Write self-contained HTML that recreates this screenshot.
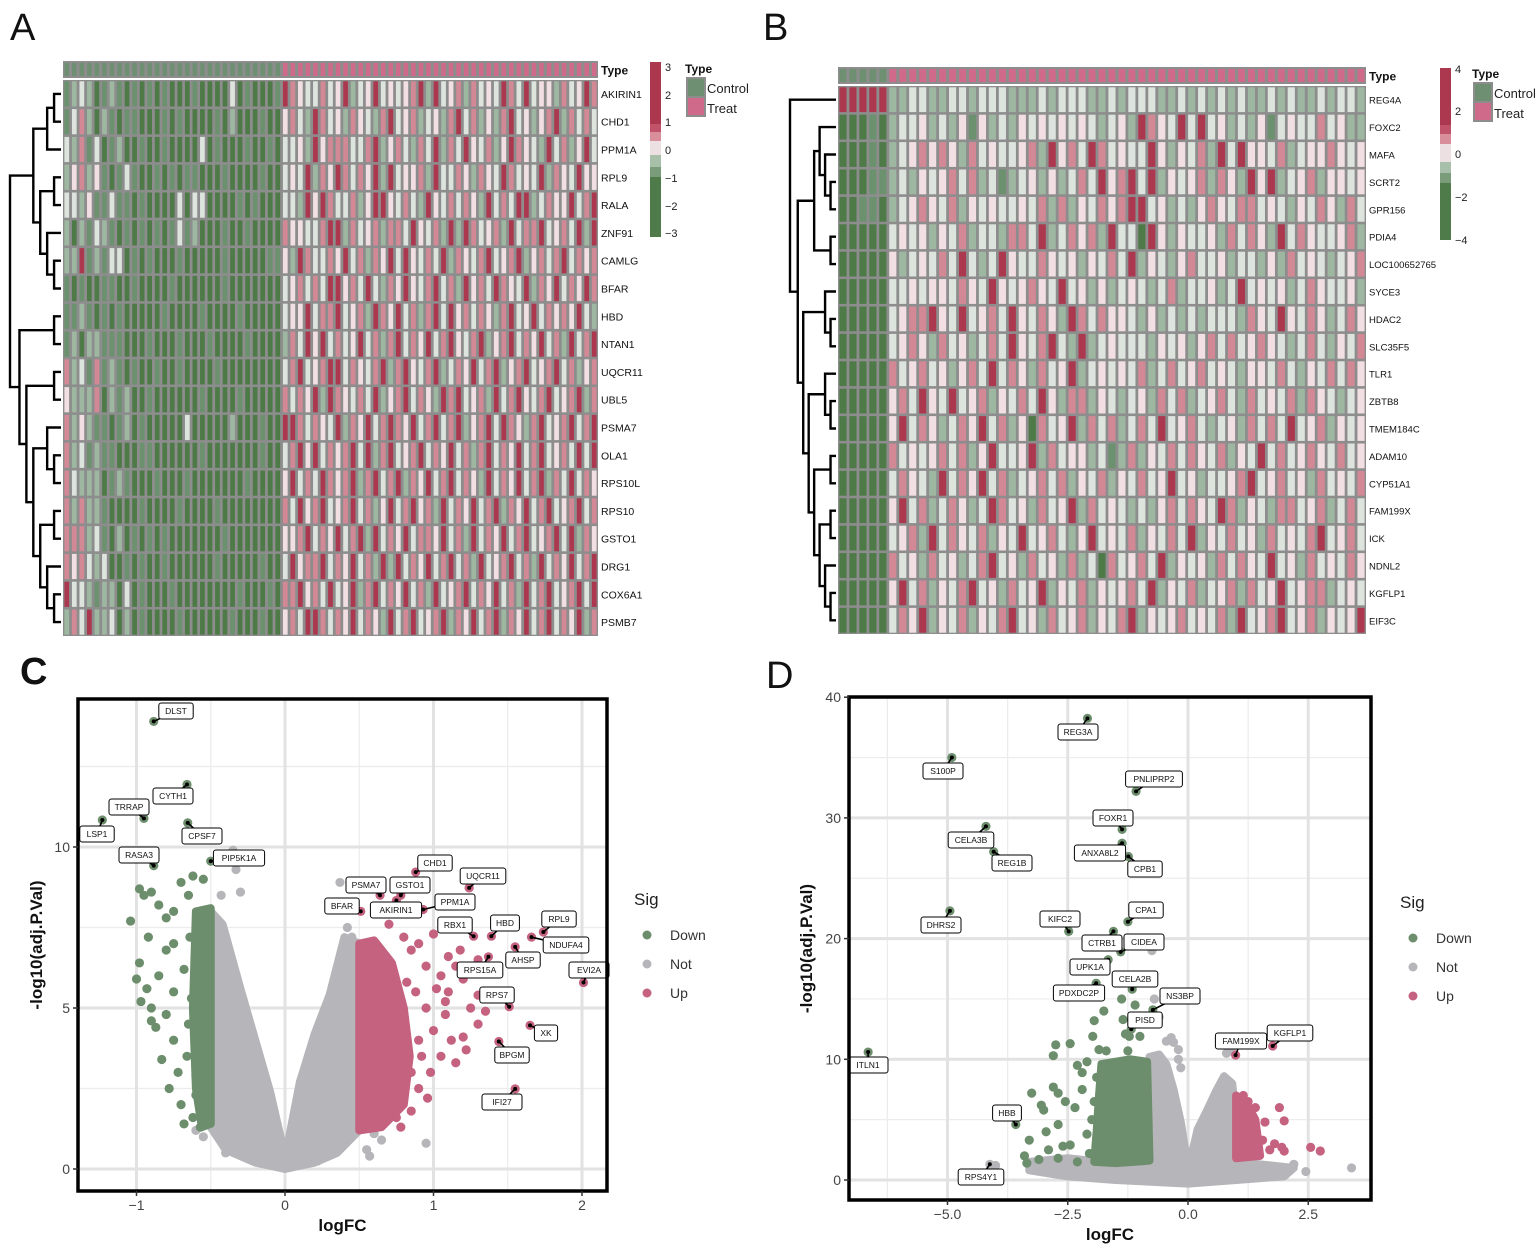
<!DOCTYPE html>
<html><head><meta charset="utf-8">
<style>
html,body{margin:0;padding:0;background:#fff;}
svg{display:block;font-family:"Liberation Sans",Arial,sans-serif;}
</style></head>
<body>
<svg id="fig" width="1535" height="1257" viewBox="0 0 1535 1257" xmlns="http://www.w3.org/2000/svg">
<rect x="0" y="0" width="1535" height="1257" fill="#fff"/>
<text x="10" y="40" font-size="38" fill="#111">A</text>
<text x="763" y="40" font-size="38" fill="#111">B</text>
<text x="20" y="684" font-size="38" font-weight="bold" fill="#111">C</text>
<text x="766" y="688" font-size="38" fill="#111">D</text>
<g id="gA"></g>
<g id="gB"></g>
<g id="gC"></g>
<g id="gD"></g>
</svg>
<script>
const NS="http://www.w3.org/2000/svg";
// ---------- Heatmap A data ----------
const genesA=["AKIRIN1","CHD1","PPM1A","RPL9","RALA","ZNF91","CAMLG","BFAR","HBD","NTAN1","UQCR11","UBL5","PSMA7","OLA1","RPS10L","RPS10","GSTO1","DRG1","COX6A1","PSMB7"];
const ctrlA=["12320121010101000100003010001","13520210110001010000102000100","32513012001001000030100010010","24524101310010101100010000100","33241131101000030330000101000","20213210101010131200010010000","22612133010100010000010000011","10100110010000100000010000000","11210101000001000010000100000","12022111000100010001000010000","52315121010010010000100000000","42225021200100000010000100000","52421101201000003000002000100","52312110001100000010000000100","53222012100010001000000010000","52522100001000010000100000000","55523102010101000000010000000","54532300101001000000100000100","63321220301000100000000100010","25362230201000010000001000100"];
const treatA=["654335346234634345626345253436536344253465","453265342543256345234256352425634245625353","334264555335624532536253643524654326352463","343625465354626344526335425436534362543644","332646533524664353264353542635366235446356","544335662534525536435262653452635563453626","426533546352546364353625435634562453563545","345353664536325464356352645365436254635465","344635563452654635256364535425634635454632","253646353463525635463564356245635463526356","356345663543562564356235463562456345635245","535462654353624563542656345263564356345625","665354362546356546356356245636542563456356","356463545636256345635463525635463563453636","463536545625635625463563542635463562536354","536456345635246356452635463562546356345635","445635463562635463554635263546356345636254","364556354635262635463563526345635263546356","556453634625635463526345635463526356345636","453665354635426356345625463562546356354625"];
// ---------- Heatmap B data ----------
const genesB=["REG4A","FOXC2","MAFA","SCRT2","GPR156","PDIA4","LOC100652765","SYCE3","HDAC2","SLC35F5","TLR1","ZBTB8","TMEM184C","ADAM10","CYP51A1","FAM199X","ICK","NDNL2","KGFLP1","EIF3C"];
const ctrlB=["66666","00010","00010","00011","00110","00000","00000","00000","00000","00000","00000","00000","00000","00000","00000","00000","00000","00000","00000","00000"];
const treatB=["223322332333222323332232333223232323223232232332","233423241423243434343234265436363423241343353422","234545425343345264536534336424352636443523445434","232434535231234242353645636243452542646234524434","234543524343343525243545663423245435534324354253","343424352332553623545263306424334253542635433452","423435363236433543424353624324533423324253432345","334344354364345436342423432352334236343423543342","345564363453643542653544324232323332543643542354","345425342353643563262343332434245353454323532435","534534245363542534623434352353453432443532435354","453643634524353642552432342535234532534352543234","463542354635240534625352353634532342535363452434","534345352463346253442312524353543524363534543534","354326354635234535243524353463423345634534253435","463523542365342534625343232453543652432553452353","345263543524363453246343524353624353425343563453","534253423563425342523053453624342535436342534354","463524356342534624352434536243523452534634552343","354624352435634253452435624345343526345634524346"];
const levelColors=["#4d7a47","#6c916e","#9db7a1","#dde4de","#f2dfe3","#d38896","#ac384f"];
const typeColors={c:"#6f8f73",t:"#cf6a8a"};
const treeA=[[[[0,1],2],[[3,4],[5,[6,7]]]],[[8,9],[[10,11],[[12,[13,14]],[[15,16],[17,[18,19]]]]]]];
const treeB=[0,[[[1,[2,[3,4]]],[5,6]],[[7,[8,9]],[[10,[11,12]],[[13,14],[[15,16],[17,[18,19]]]]]]]];

// ---------- Volcano C data ----------
const cDownX=[-0.98,-0.95,-0.9,-1.04,-0.92,-0.98,-1.0,-0.97,-0.9,-0.87,-0.9,-0.83,-0.85,-0.8,-0.8,-0.75,-0.75,-0.75,-0.75,-0.72,-0.7,-0.68,-0.7,-0.65,-0.62,-0.55,-0.68,-0.65,-0.66,-0.85,-0.93,-0.8,-0.78,-0.6,-0.63,-0.58,-0.6,-0.56,-0.62,-0.6,-0.57,-0.64];
const cDownY=[8.7,8.5,8.6,7.7,7.2,6.4,5.9,5.2,5.0,4.4,4.6,3.4,6.0,7.8,6.8,8.0,7.0,5.5,4.0,3.0,2.0,1.4,8.9,8.5,9.1,9.0,6.2,4.5,3.5,8.2,5.6,4.8,2.5,2.3,5.3,7.5,6.5,3.9,1.6,2.9,1.3,7.2];
const cUpX=[0.8,0.85,0.9,0.95,1.0,1.05,1.1,1.1,1.15,1.2,1.25,1.3,1.2,1.22,1.15,1.05,1.0,0.95,0.9,0.85,0.9,0.85,0.8,0.88,1.08,1.18,1.3,1.3,1.35,0.98,0.78,0.75,1.08,1.12,0.82,0.7,0.92,0.96,1.02];
const cUpY=[7.2,6.8,7.0,6.3,7.3,6.0,5.5,6.6,6.3,5.9,5.0,4.5,4.1,3.7,3.3,3.5,4.3,5.0,4.0,3.0,2.5,1.8,2.2,5.5,4.8,6.8,5.4,6.5,4.9,3.0,1.3,1.6,5.2,4.0,5.8,7.6,3.5,2.2,5.6];
const cNotX=[-0.35,-0.33,-0.43,-0.3,0.37,0.42,0.45,0.95,0.55,0.65,0.57,-0.4,-0.55,-0.6,0.22,0.6];
const cNotY=[9.9,9.3,8.5,8.6,8.9,7.5,7.2,0.8,0.6,0.9,0.4,0.5,1.0,1.2,0.25,1.1];
const cNotEnvX=[-0.5,-0.42,-0.3,-0.2,-0.1,-0.02,0,0.02,0.1,0.2,0.3,0.4,0.5,0.5,0.35,0.2,0,-0.2,-0.4,-0.5];
const cNotEnvY=[8.0,7.6,5.6,4.0,2.4,0.8,0.2,0.8,2.7,4.2,5.4,7.2,7.0,1.2,0.5,0.2,0,0.2,0.6,1.3];
const cDownEnvX=[-0.6,-0.5,-0.5,-0.56,-0.6,-0.62];
const cDownEnvY=[8.0,8.1,1.4,1.3,2.5,5];
const cUpEnvX=[0.5,0.6,0.72,0.8,0.84,0.8,0.65,0.5];
const cUpEnvY=[7.0,7.1,6.4,5.0,3.5,2.0,1.3,1.2];
const cLabNames=["DLST","CYTH1","TRRAP","LSP1","CPSF7","RASA3","PIP5K1A","CHD1","PSMA7","GSTO1","UQCR11","BFAR","AKIRIN1","PPM1A","RBX1","HBD","RPL9","NDUFA4","AHSP","RPS15A","EVI2A","RPS7","XK","BPGM","IFI27"];
const cLabX=[-0.884,-0.66,-0.95,-1.23,-0.655,-0.884,-0.5,0.88,0.64,0.78,1.24,0.51,0.75,0.93,1.27,1.39,1.74,1.66,1.55,1.37,2.01,1.51,1.65,1.44,1.55];
const cLabY=[13.9,11.94,10.89,10.84,10.75,9.42,9.56,9.22,8.5,8.5,8.73,8.0,8.34,8.06,7.23,7.23,7.36,7.2,6.9,6.59,5.79,5.04,4.46,3.96,2.49];
const cLabSig=["d","d","d","d","d","d","d","u","u","u","u","u","u","u","u","u","u","u","u","u","u","u","u","u","u"];
const cLabPos=[[176,711],[173,796],[129,807],[97,834],[202,836],[139,855],[239,858],[435,863],[366,885],[410,885],[483,876],[342,906],[396,910],[455,902],[455,925],[505,923],[559,919],[566,945],[523,960],[480,970],[589,970],[497,995],[546,1033],[512,1055],[502,1102]];

// ---------- Volcano D data ----------
const dDownX=[-2.75,-2.45,-2.8,-1.85,-1.7,-1.25,-2.3,-2.2,-2.1,-2.8,-2.7,-3.25,-3.05,-3.0,-2.55,-2.35,-2.7,-2.95,-3.3,-3.4,-3.35,-3.1,-2.6,-2.9,-2.45,-2.7,-2.3,-1.75,-1.95,-1.98,-1.35,-1.3,-1.0,-1.38,-1.1,-1.22,-2.2,-2.0,-2.1,-1.9,-1.95,-2.05];
const dDownY=[11.2,11.3,10.3,10.8,10.7,10.7,9.5,8.9,9.8,7.7,7.2,7.2,6.2,5.8,6.5,6.0,4.6,4.0,3.3,2.0,1.4,1.7,2.8,2.5,2.9,1.8,1.5,14.0,13.2,11.9,13.3,12.1,11.9,15.0,14.5,11.9,7.5,5.0,3.8,8.5,6.5,2.2];
const dUpX=[1.9,1.6,2.0,1.8,1.95,2.0,2.55,2.75,1.7,1.55,1.25,1.3,1.15,1.4];
const dUpY=[6.0,4.8,4.9,3.0,2.7,2.4,2.7,2.4,2.5,3.3,6.5,5.2,7.0,6.0];
const dNotX=[-0.75,-0.6,-0.7,-0.45,-0.3,-0.2,-0.15,0.8,0.9,3.4,2.45,2.2,1.6,1.5,-4.0,-3.3,-2.8,-0.55,-0.35,-0.2];
const dNotY=[19.0,13.5,15.0,11.5,11.4,10.0,9.3,10.5,10.7,1.0,0.7,1.3,0.6,0.4,1.2,1.3,1.1,9.0,11.8,10.8];
const dNotEnvX=[-0.8,-0.6,-0.45,-0.3,-0.15,-0.03,0,0.05,0.2,0.4,0.6,0.75,0.92,1.0,1.0,1.5,2.2,2.0,1.0,0,-1.5,-2.5,-3.3,-3.3,-2.5,-1.8,-0.8];
const dNotEnvY=[10.2,10.4,9.6,7.5,4.8,1.8,1.2,1.6,4.2,5.8,7.5,8.6,8.0,5,1.5,1.3,1.0,0.3,0,-0.3,0,0.3,0.8,1.5,1.8,1.5,1.5];
const dDownEnvX=[-1.8,-1.2,-0.85,-0.8,-1.5,-1.95,-1.9,-1.85];
const dDownEnvY=[9.6,10.0,9.8,1.6,1.4,1.5,4,7];
const dUpEnvX=[1.0,1.2,1.4,1.5,1.0];
const dUpEnvY=[7.0,6.5,5,2,1.8];
const dLabNames=["REG3A","S100P","PNLIPRP2","FOXR1","CELA3B","ANXA8L2","REG1B","CPB1","DHRS2","KIFC2","CPA1","CTRB1","CIDEA","UPK1A","CELA2B","PDXDC2P","NS3BP","PISD","FAM199X","KGFLP1","ITLN1","HBB","RPS4Y1"];
const dLabX=[-2.09,-4.91,-1.08,-1.37,-4.2,-1.37,-4.04,-1.24,-4.95,-2.48,-1.25,-1.55,-1.4,-1.66,-1.16,-1.91,-0.73,-1.18,0.99,1.76,-6.65,-3.58,-4.12];
const dLabY=[38.25,35.0,32.2,29.05,29.3,27.9,27.2,26.8,22.3,20.6,21.4,20.6,18.9,18.25,15.8,16.3,14.1,12.5,10.35,11.1,10.6,4.6,1.3];
const dLabSig=["d","d","d","d","d","d","d","d","d","d","d","d","d","d","d","d","d","d","u","u","d","d","n"];
const dLabPos=[[1078,732],[943,771],[1154,779],[1113,818],[971,840],[1100,853],[1012,863],[1145,869],[941,925],[1060,919],[1146,910],[1102,943],[1144,942],[1090,967],[1135,979],[1079,993],[1180,996],[1145,1020],[1241,1041],[1290,1033],[868,1065],[1007,1113],[981,1177]];

const sigCol={d:"#6d8e6c",n:"#b6b6ba",u:"#c4627f"};

function el(tag,attrs,parent,text){const e=document.createElementNS(NS,tag);for(const k in attrs)e.setAttribute(k,attrs[k]);if(text!==undefined)e.textContent=text;parent.appendChild(e);return e;}

// ---------- heatmap drawing ----------
function heat(g,cfg){
  const nC=cfg.nCol, nR=cfg.genes.length;
  const cw=(cfg.x1-cfg.x0)/nC, rh=(cfg.y1-cfg.y0)/nR;
  el("rect",{x:cfg.x0,y:cfg.ty0,width:cfg.x1-cfg.x0,height:cfg.ty1-cfg.ty0,fill:"#8d8d8d"},g);
  el("rect",{x:cfg.x0,y:cfg.y0,width:cfg.x1-cfg.x0,height:cfg.y1-cfg.y0,fill:"#8d8d8d"},g);
  for(let c=0;c<nC;c++){
    const isC=c<cfg.nCtrl;
    const t=el("rect",{x:cfg.x0+c*cw+1.5,y:cfg.ty0+2,width:cw-3,height:cfg.ty1-cfg.ty0-4,fill:isC?typeColors.c:typeColors.t},g);
    
    
  }
  for(let r=0;r<nR;r++){
    const s=(cfg.ctrl[r]+"3".repeat(60)).slice(0,cfg.nCtrl)+(cfg.treat[r]+"3".repeat(60)).slice(0,nC-cfg.nCtrl);
    for(let c=0;c<nC;c++){
      const v=+s[c];
      const cell=el("rect",{x:cfg.x0+c*cw+1.4,y:cfg.y0+r*rh+1.3,width:cw-2.8,height:rh-2.6,fill:levelColors[v]},g);
      
      
    }
    const lab=el("text",{x:cfg.x1+3,y:cfg.y0+(r+0.5)*rh+4,"font-size":cfg.fs,fill:"#111"},g,cfg.genes[r]);
    
    
  }
  const tl=el("text",{x:cfg.x1+3,y:(cfg.ty0+cfg.ty1)/2+5,"font-size":12,"font-weight":"bold",fill:"#111"},g,"Type");
  
  
  const leafY=i=>cfg.y0+(i+0.5)*rh;
  function depth(n){return Array.isArray(n)?1+Math.max(depth(n[0]),depth(n[1])):0;}
  const maxD=depth(cfg.tree), xr=cfg.x0-2, unit=(xr-cfg.dx0)/maxD;
  const dg=el("g",{},g);
  function draw(n){
    if(!Array.isArray(n))return {y:leafY(n),x:xr};
    const a=draw(n[0]),b=draw(n[1]);const x=xr-depth(n)*unit*(depth(n)===maxD?1:0.95);
    el("path",{d:`M${a.x},${a.y}H${x}V${b.y}H${b.x}`,fill:"none",stroke:"#000","stroke-width":2.4},dg);
    return {y:(a.y+b.y)/2,x:x};
  }
  draw(cfg.tree);
  const cb=el("g",{},g);
  for(const s of cfg.cbSegs)el("rect",{x:cfg.cbx,y:s[0],width:11,height:s[1]-s[0],fill:s[2]},cb);
  for(const t of cfg.cbTicks){const tt=el("text",{x:cfg.cbx+15,y:t[1]+4,"font-size":11,fill:"#222"},cb,t[0]);}
  const tg=el("g",{},g);
  el("text",{x:cfg.lgx,y:cfg.lgy,"font-size":12,"font-weight":"bold",fill:"#111"},tg,"Type");
  el("rect",{x:cfg.lgx+1,y:cfg.lgy+4,width:20,height:40,fill:"#8d8d8d"},tg);
  el("rect",{x:cfg.lgx+3,y:cfg.lgy+6,width:16,height:17,fill:typeColors.c},tg);
  el("rect",{x:cfg.lgx+3,y:cfg.lgy+25,width:16,height:17,fill:typeColors.t},tg);
  el("text",{x:cfg.lgx+22,y:cfg.lgy+20,"font-size":13,fill:"#222"},tg,"Control");
  el("text",{x:cfg.lgx+22,y:cfg.lgy+40,"font-size":13,fill:"#222"},tg,"Treat");
}
heat(document.getElementById("gA"),{x0:63,x1:598,y0:80,y1:636,ty0:61,ty1:78,nCol:71,nCtrl:29,genes:genesA,ctrl:ctrlA,treat:treatA,fs:10.5,tree:treeA,dx0:10,
  cbx:650,cbSegs:[[62,124,"#ac384f"],[124,132,"#c0536a"],[132,141,"#d98e9b"],[141,155,"#ece0e2"],[155,167,"#a8c0aa"],[167,177,"#7a9c7a"],[177,237,"#4f7b4a"]],
  cbTicks:[["3",67],["2",95],["1",122],["0",150],["−1",178],["−2",206],["−3",233]],lgx:685,lgy:73});
heat(document.getElementById("gB"),{x0:838,x1:1366,y0:86,y1:634,ty0:67,ty1:84,nCol:53,nCtrl:5,genes:genesB,ctrl:ctrlB,treat:treatB,fs:9.5,tree:treeB,dx0:790,
  cbx:1440,cbSegs:[[68,125,"#ac384f"],[125,134,"#c0536a"],[134,144,"#d98e9b"],[144,162,"#ece0e2"],[162,173,"#a8c0aa"],[173,183,"#7a9c7a"],[183,240,"#4f7b4a"]],
  cbTicks:[["4",69],["2",111],["0",154],["−2",197],["−4",240]],lgx:1472,lgy:78});

// ---------- volcano drawing ----------
function volcano(g,cfg){
  const X=v=>cfg.px0+(v-cfg.v0)*cfg.sx, Y=v=>cfg.py0-v*cfg.sy;
  const clip="clip"+cfg.id;
  const defs=el("defs",{},g);const cp=el("clipPath",{id:clip},defs);
  el("rect",{x:cfg.L,y:cfg.T,width:cfg.R-cfg.L,height:cfg.B-cfg.T},cp);
  const grid=el("g",{},g);
  for(const v of cfg.xMinor)el("line",{x1:X(v),x2:X(v),y1:cfg.T,y2:cfg.B,stroke:"#ececec","stroke-width":1.2},grid);
  for(const v of cfg.yMinor)el("line",{y1:Y(v),y2:Y(v),x1:cfg.L,x2:cfg.R,stroke:"#ececec","stroke-width":1.2},grid);
  for(const v of cfg.xTicks)el("line",{x1:X(v),x2:X(v),y1:cfg.T,y2:cfg.B,stroke:"#e2e2e2","stroke-width":3},grid);
  for(const v of cfg.yTicks)el("line",{y1:Y(v),y2:Y(v),x1:cfg.L,x2:cfg.R,stroke:"#e2e2e2","stroke-width":3},grid);
  const pts=el("g",{"clip-path":`url(#${clip})`},g);
  function env(xs,ys,col,name){const p=el("polygon",{points:xs.map((x,i)=>X(x)+","+Y(ys[i])).join(" "),fill:col,stroke:col,"stroke-width":8,"stroke-linejoin":"round"},pts);}
  function dots(xs,ys,col,name){for(let i=0;i<xs.length;i++){const c=el("circle",{cx:X(xs[i]),cy:Y(ys[i]),r:4.6,fill:col},pts);}}
  env(cfg.notEnv[0],cfg.notEnv[1],sigCol.n,"not-sig-density");
  dots(cfg.not[0],cfg.not[1],sigCol.n,"point-not");
  env(cfg.downEnv[0],cfg.downEnv[1],sigCol.d,"down-density");
  env(cfg.upEnv[0],cfg.upEnv[1],sigCol.u,"up-density");
  dots(cfg.down[0],cfg.down[1],sigCol.d,"point-down");
  dots(cfg.up[0],cfg.up[1],sigCol.u,"point-up");
  const lg=el("g",{},g);
  for(let i=0;i<cfg.labN.length;i++){
    const px=X(cfg.labX[i]),py=Y(cfg.labY[i]);
    const c=el("circle",{cx:px,cy:py,r:4.6,fill:sigCol[cfg.labS[i]]},pts);
    
    
    const [lx,ly]=cfg.labP[i];
    el("line",{x1:px,y1:py,x2:lx,y2:ly,stroke:"#000","stroke-width":1.6},lg);
    el("circle",{cx:px,cy:py,r:2,fill:"#000"},lg);
    const w=cfg.labN[i].length*5.6+12;
    const b=el("rect",{x:lx-w/2,y:ly-8,width:w,height:16,rx:2.5,fill:"#fff",stroke:"#000","stroke-width":1},lg);
    
    
    const t=el("text",{x:lx,y:ly+3.2,"font-size":8.5,"text-anchor":"middle",fill:"#111"},lg,cfg.labN[i]);
    
    
  }
  const fr=el("rect",{x:cfg.L,y:cfg.T,width:cfg.R-cfg.L,height:cfg.B-cfg.T,fill:"none",stroke:"#000","stroke-width":3.5},g);
  
  for(let i=0;i<cfg.xTicks.length;i++){const v=cfg.xTicks[i];
    el("line",{x1:X(v),x2:X(v),y1:cfg.B,y2:cfg.B+5,stroke:"#333","stroke-width":1.5},g);
    const t=el("text",{x:X(v),y:cfg.B+19,"font-size":14,"text-anchor":"middle",fill:"#444"},g,cfg.xLab[i]);
    }
  for(let i=0;i<cfg.yTicks.length;i++){const v=cfg.yTicks[i];
    el("line",{x1:cfg.L-5,x2:cfg.L,y1:Y(v),y2:Y(v),stroke:"#333","stroke-width":1.5},g);
    const t=el("text",{x:cfg.L-8,y:Y(v)+5,"font-size":14,"text-anchor":"end",fill:"#444"},g,cfg.yLab[i]);
    }
  const xt=el("text",{x:(cfg.L+cfg.R)/2,y:cfg.B+40,"font-size":17,"font-weight":"bold","text-anchor":"middle",fill:"#111"},g,"logFC");
  
  const yx=cfg.ytX, yy=(cfg.T+cfg.B)/2;
  const yt=el("text",{x:yx,y:yy,"font-size":17,"font-weight":"bold","text-anchor":"middle",fill:"#111",transform:`rotate(-90 ${yx} ${yy})`},g,"-log10(adj.P.Val)");
  
  const leg=el("g",{},g);
  el("text",{x:cfg.lgx,y:cfg.lgy,"font-size":17,fill:"#222"},leg,"Sig");
  const ent=[["Down","d"],["Not","n"],["Up","u"]];
  ent.forEach((e,i)=>{const yy2=cfg.lgy+30+i*29;
    const c=el("circle",{cx:cfg.lgx+13,cy:yy2,r:4.5,fill:sigCol[e[1]]},leg);
    el("text",{x:cfg.lgx+36,y:yy2+5,"font-size":14,fill:"#333"},leg,e[0]);});
}
volcano(document.getElementById("gC"),{id:"C",L:78,R:607,T:699,B:1191,px0:285,v0:0,sx:148.5,py0:1169,sy:32.2,
  xTicks:[-1,0,1,2],xLab:["−1","0","1","2"],yTicks:[0,5,10],yLab:["0","5","10"],xMinor:[-0.5,0.5,1.5],yMinor:[2.5,7.5,12.5],
  notEnv:[cNotEnvX,cNotEnvY],downEnv:[cDownEnvX,cDownEnvY],upEnv:[cUpEnvX,cUpEnvY],not:[cNotX,cNotY],down:[cDownX,cDownY],up:[cUpX,cUpY],
  labN:cLabNames,labX:cLabX,labY:cLabY,labS:cLabSig,labP:cLabPos,ytX:42,lgx:634,lgy:905});
volcano(document.getElementById("gD"),{id:"D",L:849,R:1371,T:697,B:1200,px0:1188,v0:0,sx:48.1,py0:1180,sy:12.07,
  xTicks:[-5,-2.5,0,2.5],xLab:["−5.0","−2.5","0.0","2.5"],yTicks:[0,10,20,30,40],yLab:["0","10","20","30","40"],xMinor:[-6.25,-3.75,-1.25,1.25],yMinor:[5,15,25,35],
  notEnv:[dNotEnvX,dNotEnvY],downEnv:[dDownEnvX,dDownEnvY],upEnv:[dUpEnvX,dUpEnvY],not:[dNotX,dNotY],down:[dDownX,dDownY],up:[dUpX,dUpY],
  labN:dLabNames,labX:dLabX,labY:dLabY,labS:dLabSig,labP:dLabPos,ytX:812,lgx:1400,lgy:908});
</script>
</body></html>
